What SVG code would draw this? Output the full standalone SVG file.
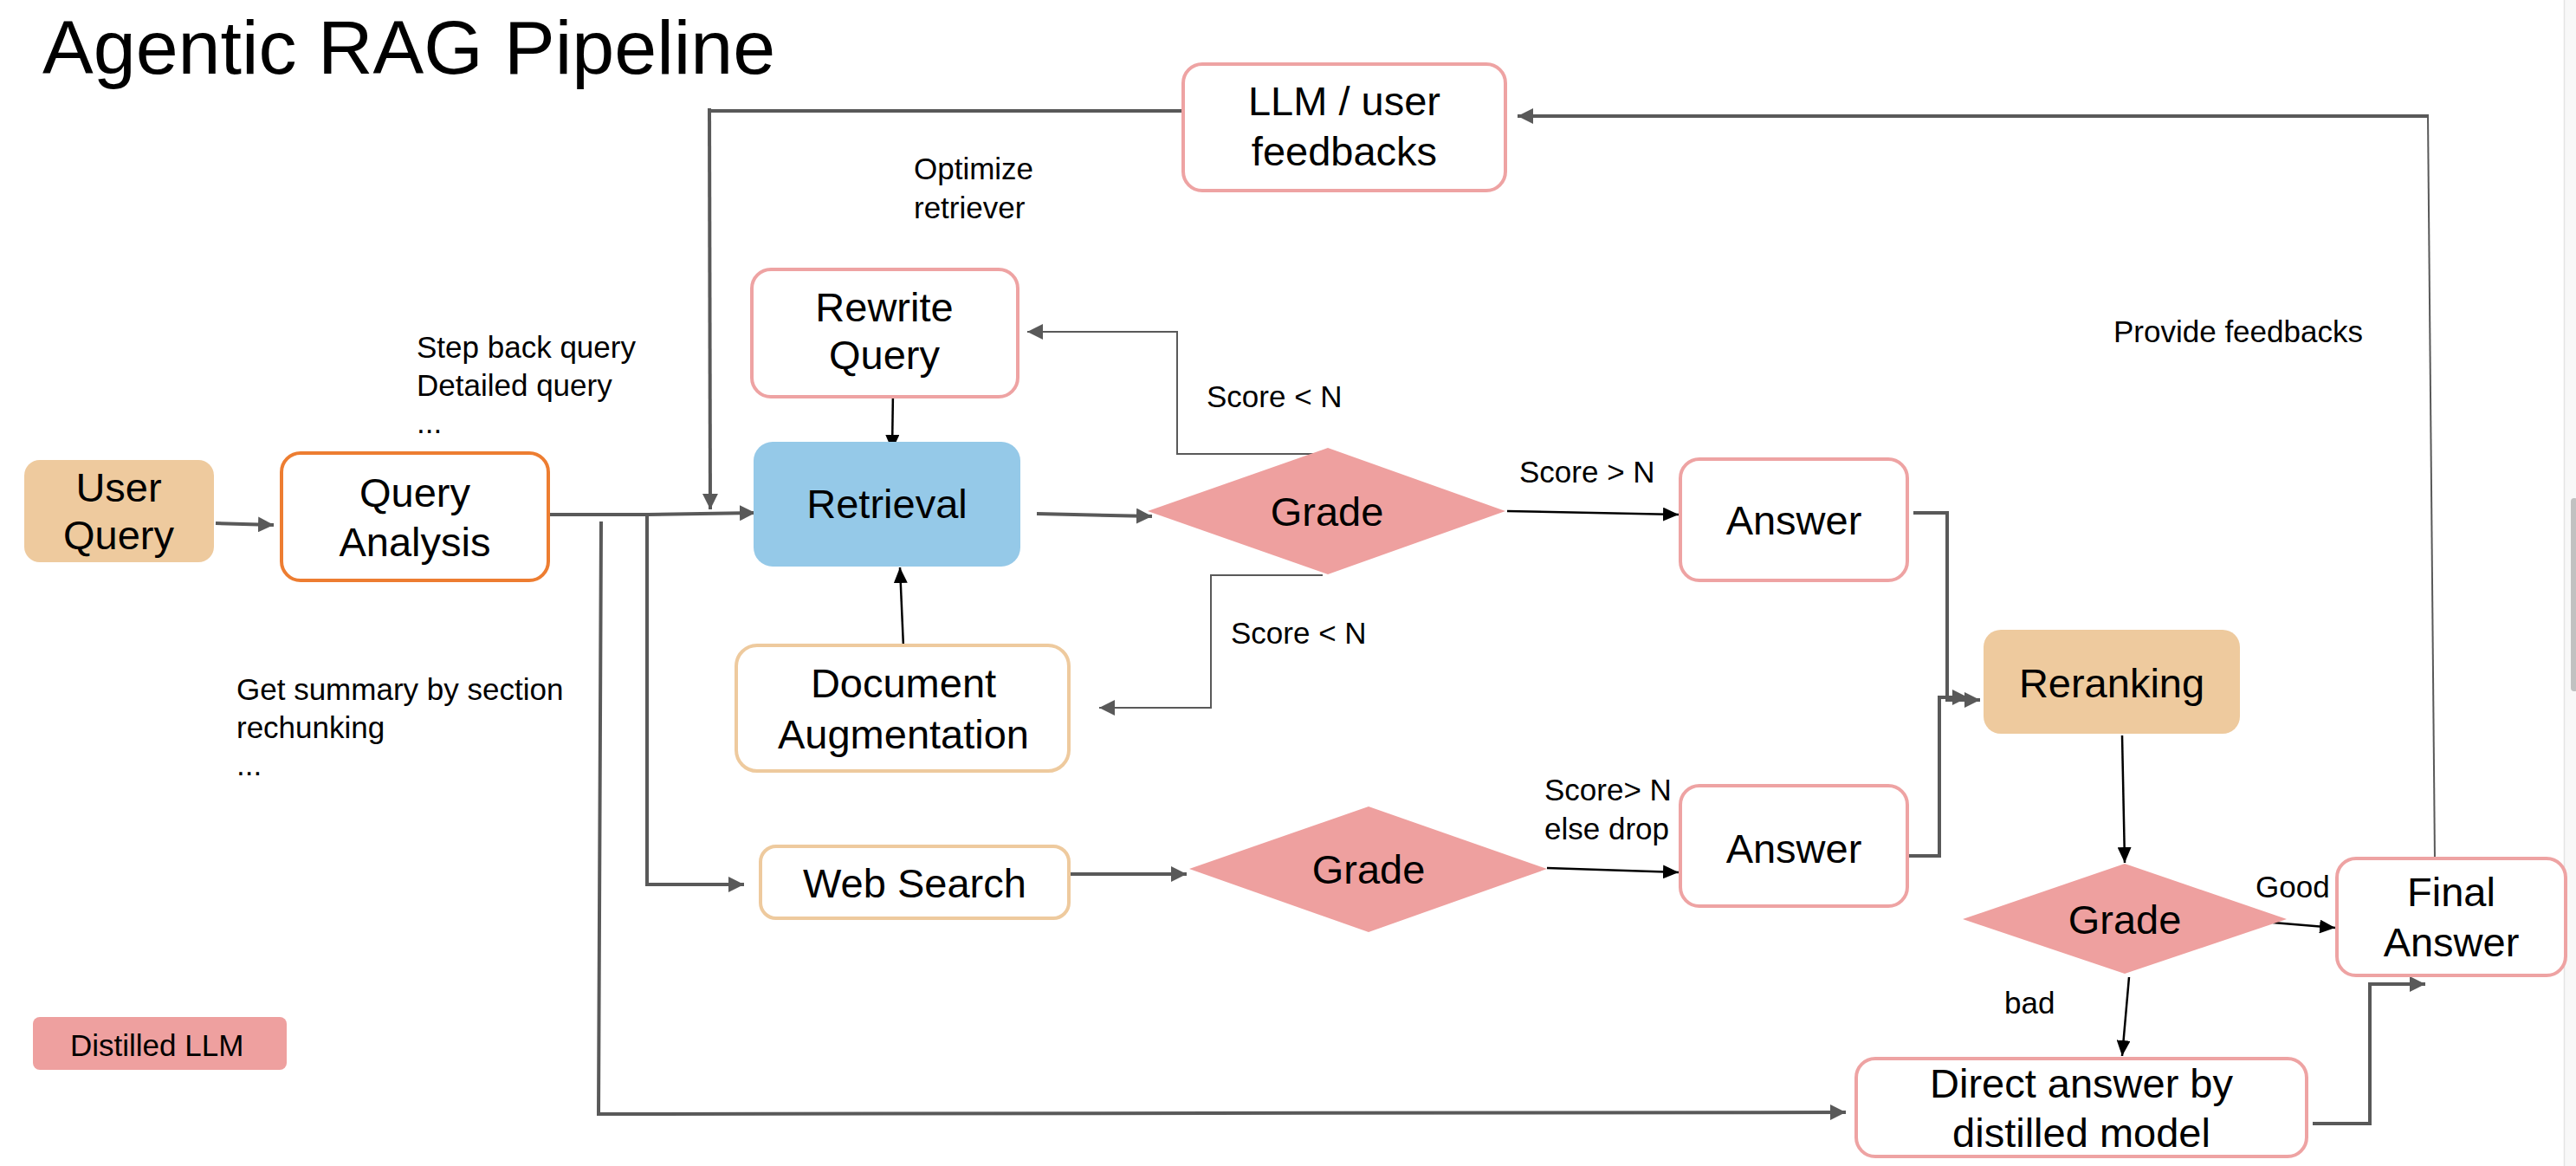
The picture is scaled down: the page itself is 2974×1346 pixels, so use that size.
<svg xmlns="http://www.w3.org/2000/svg" width="2974" height="1346" viewBox="0 0 2974 1346">
<style>
text{font-family:"Liberation Sans",Arial,sans-serif;fill:#000}
.nl{font-size:47px;text-anchor:middle}
.sl{font-size:35px}
.box{fill:#fff;stroke-width:4}
.pink{stroke:#EEA3A3}
.peach{stroke:#EECA9E}
.dia{fill:#EEA09F}
.cg{fill:none;stroke:#595959;stroke-width:4}
.cgt{fill:none;stroke:#595959;stroke-width:2}
.cb{fill:none;stroke:#000;stroke-width:2.5}
.ga{marker-end:url(#ag)}
.ba{marker-end:url(#ab)}
</style>
<defs>
<marker id="ag" viewBox="0 0 18 18" markerWidth="18" markerHeight="18" refX="18" refY="9" orient="auto" markerUnits="userSpaceOnUse"><path d="M0,0 L18,9 L0,18 z" fill="#595959"/></marker>
<marker id="ab" viewBox="0 0 18 16" markerWidth="18" markerHeight="16" refX="18" refY="8" orient="auto" markerUnits="userSpaceOnUse"><path d="M0,0 L18,8 L0,16 z" fill="#000"/></marker>
</defs>
<rect width="2974" height="1346" fill="#fff"/>
<g id="scrollbar">
<rect x="2960" y="0" width="14" height="1346" fill="#F8F8F8"/>
<line x1="2960.5" y1="0" x2="2960.5" y2="1346" stroke="#E4E4E4" stroke-width="1.5"/>
<rect x="2968" y="575" width="8" height="223" rx="4" fill="#C1C1C1"/>
</g>
<text id="title" x="49" y="85" font-size="88">Agentic RAG Pipeline</text>
<g id="labels" class="sl">
<text x="1055" y="207">Optimize</text>
<text x="1055" y="252">retriever</text>
<text x="481" y="413">Step back query</text>
<text x="481" y="457">Detailed query</text>
<text x="481" y="500">...</text>
<text x="273" y="808">Get summary by section</text>
<text x="273" y="852">rechunking</text>
<text x="273" y="895">...</text>
<text x="1393" y="470">Score &lt; N</text>
<text x="1754" y="557">Score &gt; N</text>
<text x="2440" y="395">Provide feedbacks</text>
<text x="1421" y="743">Score &lt; N</text>
<text x="1783" y="924">Score&gt; N</text>
<text x="1783" y="969">else drop</text>
<text x="2604" y="1036">Good</text>
<text x="2314" y="1170">bad</text>
</g>
<g id="connectors">
<path class="cg ga" d="M249,604 L316,606"/>
<path class="cg" d="M633,594 H748" stroke-width="6"/>
<path class="cg ga" d="M748,594 L872,592"/>
<path class="cg ga" d="M747,594 V1021 H859"/>
<path class="cg ga" d="M694,602 L691,1286 L2131,1284" stroke-width="3.5"/>
<path class="cg" d="M1364,128 H818"/>
<path class="cg ga" d="M819,125 L820,588" stroke-width="3"/>
<path class="cgt" d="M2811,994 L2803,132"/>
<path class="cg ga" d="M2803,134 H1752"/>
<path class="cb ba" d="M1031,451 L1030,520"/>
<path class="cb ba" d="M1043,747 L1039,655"/>
<path class="cg ga" d="M1197,593 L1330,596" stroke-width="3"/>
<path class="cgt ga" d="M1533,524 H1359 V383 H1186"/>
<path class="cgt ga" d="M1527,664 H1398 V817 H1269"/>
<path class="cb ba" d="M1740,590 L1938,594" stroke-width="3.5"/>
<path class="cg ga" d="M1236,1009 H1370"/>
<path class="cb ba" d="M1786,1002 L1938,1007" stroke-width="3.5"/>
<path class="cg ga" d="M2209,592 H2248 V808 H2286"/>
<path class="cg ga" d="M2203,988 H2239 V805 H2272"/>
<path class="cb ba" d="M2450,849 L2453,996"/>
<path class="cb ba" d="M2624,1065 L2696,1071" stroke-width="3.5"/>
<path class="cb ba" d="M2458,1128 L2450,1219"/>
<path class="cg ga" d="M2670,1297 H2736 V1136 H2800" stroke-width="5"/>
</g>
<g id="user-query">
<rect x="28" y="531" width="219" height="118" rx="18" fill="#EECA9E"/>
<text class="nl" x="137" y="579">User</text>
<text class="nl" x="137" y="634">Query</text>
</g>
<g id="query-analysis">
<rect class="box" x="325" y="523" width="308" height="147" rx="22" stroke="#ED7D31"/>
<text class="nl" x="479" y="585">Query</text>
<text class="nl" x="479" y="642">Analysis</text>
</g>
<g id="rewrite-query">
<rect class="box pink" x="868" y="311" width="307" height="147" rx="22"/>
<text class="nl" x="1021" y="371">Rewrite</text>
<text class="nl" x="1021" y="426">Query</text>
</g>
<g id="retrieval">
<rect x="870" y="510" width="308" height="144" rx="22" fill="#95C9E8"/>
<text class="nl" x="1024" y="598">Retrieval</text>
</g>
<g id="llm-feedbacks">
<rect class="box pink" x="1366" y="74" width="372" height="146" rx="22"/>
<text class="nl" x="1552" y="133">LLM / user</text>
<text class="nl" x="1552" y="191">feedbacks</text>
</g>
<g id="grade-1">
<polygon class="dia" points="1325,590 1533,517 1738,590 1533,663"/>
<text class="nl" x="1532" y="607">Grade</text>
</g>
<g id="answer-1">
<rect class="box pink" x="1940" y="530" width="262" height="140" rx="22"/>
<text class="nl" x="2071" y="617">Answer</text>
</g>
<g id="document-augmentation">
<rect class="box peach" x="850" y="745" width="384" height="145" rx="24"/>
<text class="nl" x="1043" y="805">Document</text>
<text class="nl" x="1043" y="864">Augmentation</text>
</g>
<g id="web-search">
<rect class="box peach" x="878" y="977" width="356" height="83" rx="18"/>
<text class="nl" x="1056" y="1036">Web Search</text>
</g>
<g id="grade-2">
<polygon class="dia" points="1373,1003 1580,931 1786,1003 1580,1076"/>
<text class="nl" x="1580" y="1020">Grade</text>
</g>
<g id="answer-2">
<rect class="box pink" x="1940" y="907" width="262" height="139" rx="22"/>
<text class="nl" x="2071" y="996">Answer</text>
</g>
<g id="reranking">
<rect x="2290" y="727" width="296" height="120" rx="20" fill="#EECA9E"/>
<text class="nl" x="2438" y="805">Reranking</text>
</g>
<g id="grade-3">
<polygon class="dia" points="2266,1061 2453,997 2640,1061 2453,1124"/>
<text class="nl" x="2453" y="1078">Grade</text>
</g>
<g id="final-answer">
<rect class="box pink" x="2698" y="991" width="264" height="135" rx="22"/>
<text class="nl" x="2830" y="1046">Final</text>
<text class="nl" x="2830" y="1104">Answer</text>
</g>
<g id="direct-answer">
<rect class="box pink" x="2143" y="1222" width="520" height="113" rx="22"/>
<text class="nl" x="2403" y="1267">Direct answer by</text>
<text class="nl" x="2403" y="1324">distilled model</text>
</g>
<g id="legend-distilled-llm">
<rect x="38" y="1174" width="293" height="61" rx="8" fill="#EEA09F"/>
<text class="sl" x="81" y="1219">Distilled LLM</text>
</g>
</svg>
